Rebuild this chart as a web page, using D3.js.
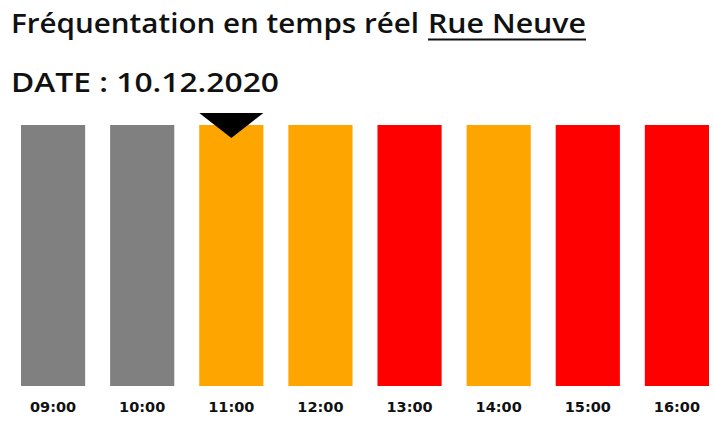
<!DOCTYPE html>
<html>
<head>
<meta charset="utf-8">
<script src="https://cdn.jsdelivr.net/npm/d3@7"></script>
<style>
	body { margin: 0; background: #fff; }
	svg { display: block; }
</style>
</head>
<body>
<svg id="chart"></svg>
<script>
const width = 714,
			height = 431,
			margin = {top: 125, right: 5, bottom: 45, left: 21};

// Hours shown and the crowd level for each one
const hours = ["09:00", "10:00", "11:00", "12:00", "13:00", "14:00", "15:00", "16:00"];
const levels = ["inconnu", "inconnu", "moyen", "moyen", "élevé", "moyen", "élevé", "élevé"];
const fill = [1, 1, 1, 1, 1, 1, 1, 1];
const currentHour = "11:00";

const levelNames = ["inconnu", "moyen", "élevé"];
const levelColors = ["#808080", "#ffa500", "#ff0000"];

const data = hours.map((h, i) => ({hour: h, level: levels[i], value: fill[i]}));

const svg = d3.select("#chart")
		.attr("width", width)
		.attr("height", height);

const x = d3.scaleBand()
		.domain(hours)
		.range([margin.left, 709])
		.paddingInner(0.28)
		.paddingOuter(0);

const y = d3.scaleLinear()
		.domain([0, 1])
		.range([height - margin.bottom, margin.top]);

const color = d3.scaleOrdinal()
		.domain(levelNames)
		.range(levelColors);

const headFont = "'Open Sans', Lato, sans-serif";

// Title, the street name is underlined
svg.append("text")
		.attr("x", 11)
		.attr("y", 33)
		.attr("textLength", 408)
		.attr("lengthAdjust", "spacingAndGlyphs")
		.style("font-family", headFont)
		.style("font-size", "26.5px")
		.style("font-weight", 600)
		.attr("fill", "#111")
		.text("Fréquentation en temps réel");

svg.append("text")
		.attr("x", 428)
		.attr("y", 33)
		.attr("textLength", 158)
		.attr("lengthAdjust", "spacingAndGlyphs")
		.style("font-family", headFont)
		.style("font-size", "26.5px")
		.style("font-weight", 600)
		.attr("fill", "#111")
		.text("Rue Neuve");

svg.append("rect")
		.attr("x", 428)
		.attr("y", 38.5)
		.attr("width", 158)
		.attr("height", 2)
		.attr("fill", "#111");

svg.append("text")
		.attr("x", 11)
		.attr("y", 92)
		.attr("textLength", 268)
		.attr("lengthAdjust", "spacingAndGlyphs")
		.style("font-family", headFont)
		.style("font-size", "27.5px")
		.style("font-weight", 600)
		.attr("fill", "#111")
		.text("DATE : 10.12.2020");

// Bars
svg.selectAll(".bar")
	.data(data)
	.enter()
	.append("rect")
		.attr("class", "bar")
		.attr("x", d => x(d.hour))
		.attr("y", d => y(d.value))
		.attr("width", x.bandwidth())
		.attr("height", d => y(0) - y(d.value))
		.attr("fill", d => color(d.level));

// Hour labels
const xAxis = d3.axisBottom(x).tickSize(0).tickPadding(0);
svg.append("g")
		.attr("transform", `translate(0, ${y(0) + 16})`)
		.call(xAxis)
		.call(g => g.select(".domain").remove())
		.call(g => g.selectAll("text")
			.style("font-family", "'DejaVu Sans', sans-serif")
			.style("font-size", "14.5px")
			.style("font-weight", "bold")
			.attr("fill", "#111"));

// Marker above the current hour
const bx = x(currentHour), bw = x.bandwidth(), barTop = y(1);
svg.append("path")
		.attr("d", `M${bx},${barTop - 12} L${bx + bw},${barTop - 12} L${bx + bw / 2},${barTop + 13} Z`)
		.attr("fill", "#000");
</script>
</body>
</html>
